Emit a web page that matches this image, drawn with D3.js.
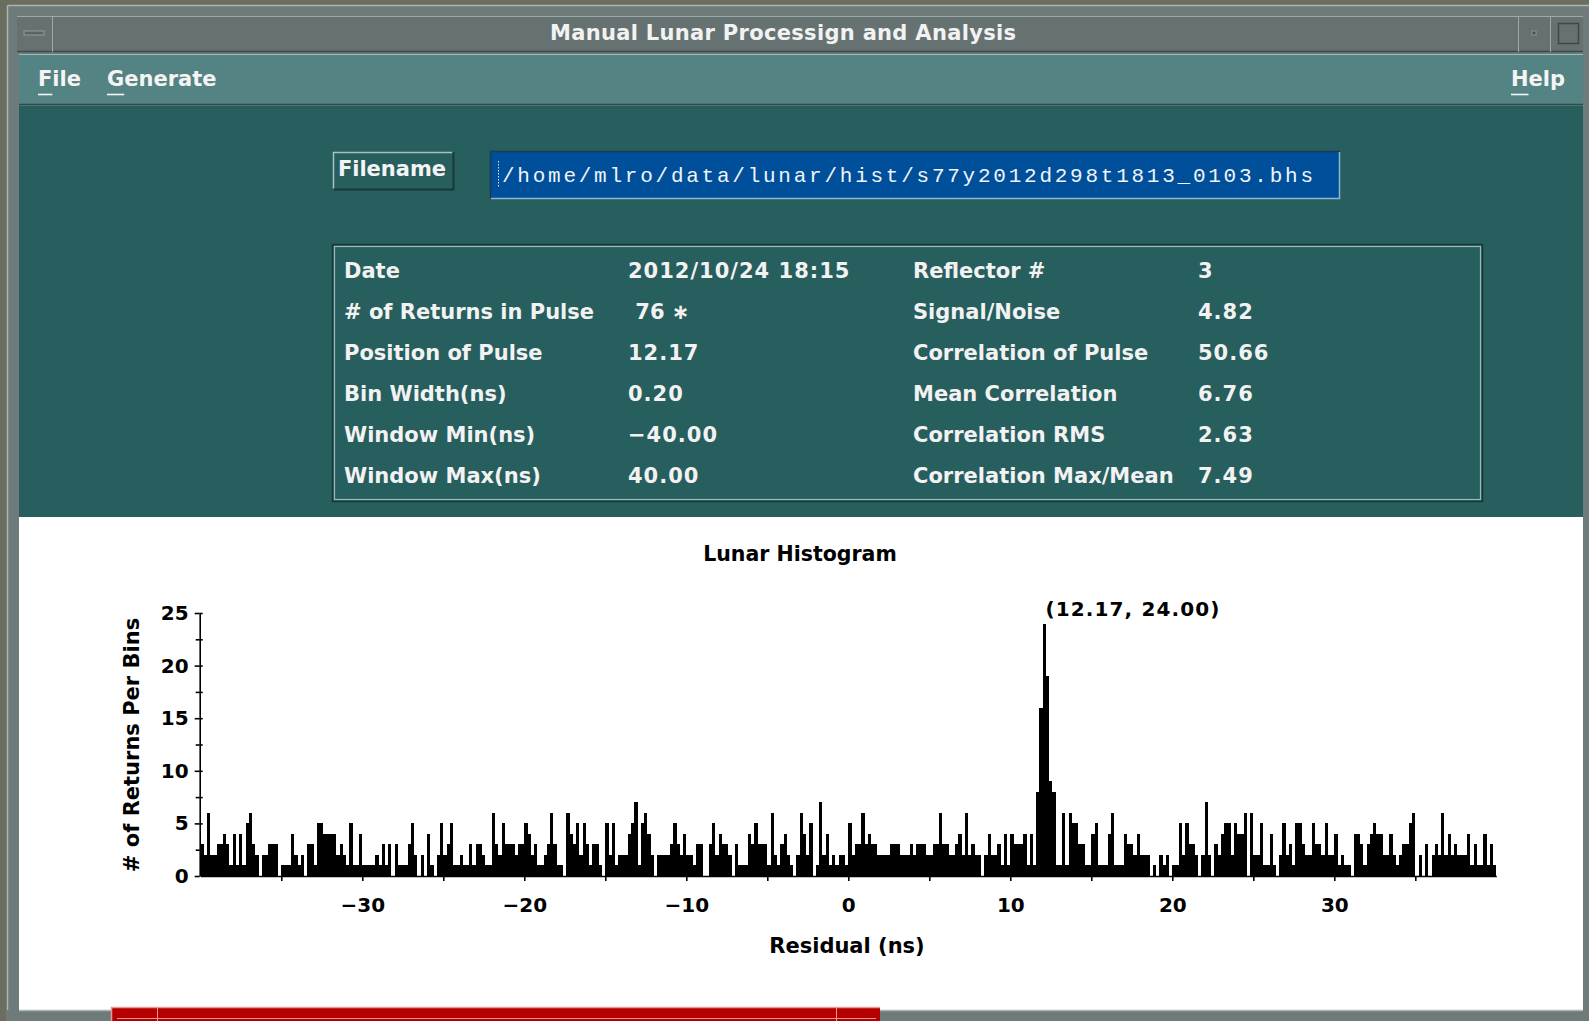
<!DOCTYPE html>
<html>
<head>
<meta charset="utf-8">
<script src="https://cdn.jsdelivr.net/npm/d3@7"></script>
<style>
  html, body { margin: 0; padding: 0; background: #6c6e60; overflow: hidden; }
  svg { display: block; }
</style>
</head>
<body>
<svg id="app" width="1589" height="1021"></svg>
<script>
// ---------------------------------------------------------------
// Run parameters shown in the info panel
// ---------------------------------------------------------------
const windowTitle = "Manual Lunar Processign and Analysis";
const menuLeft = ["File", "Generate"];
const menuRight = ["Help"];
const histFile = "/home/mlro/data/lunar/hist/s77y2012d298t1813_0103.bhs";

const infoLabelsLeft  = ["Date", "# of Returns in Pulse", "Position of Pulse", "Bin Width(ns)", "Window Min(ns)", "Window Max(ns)"];
const infoValuesLeft  = ["2012/10/24 18:15", " 76 \u2217", "12.17", "0.20", "\u221240.00", "40.00"];
const infoLabelsRight = ["Reflector #", "Signal/Noise", "Correlation of Pulse", "Mean Correlation", "Correlation RMS", "Correlation Max/Mean"];
const infoValuesRight = ["3", "4.82", "50.66", "6.76", "2.63", "7.49"];

const pulsePosition = 12.17;   // ns
const binWidth = 0.2;          // ns
const windowMin = -40;         // ns
const windowMax = 40;          // ns

// Histogram counts per 0.2 ns bin, in four 20 ns blocks
const binsA = [ // -40 .. -20 ns
  3,2,6,2,2,3,3,4,3,1, 4,1,4,1,5,6,3,2,0,2, 2,3,3,3,0,1,1,1,4,2, 1,2,0,3,3,1,5,5,4,4,
  4,4,2,3,2,1,5,1,1,4, 1,1,1,1,2,1,3,1,3,0, 3,1,1,1,3,5,2,0,2,0, 4,1,0,2,5,2,3,5,1,1,
  2,1,1,3,1,3,3,2,1,1, 6,3,2,5,3,3,3,2,3,3];
const binsB = [ // -20 .. 0 ns
  5,4,2,3,1,1,2,3,6,3, 1,1,0,6,4,3,5,2,5,3, 1,3,3,1,0,5,2,5,1,2, 2,2,4,5,7,1,5,6,4,2,
  0,2,2,2,2,3,5,3,2,4, 2,2,1,3,3,0,0,3,5,2, 4,3,3,2,0,3,1,1,1,4, 3,5,3,3,3,1,6,2,1,3,
  4,2,1,0,2,6,4,2,5,0, 1,7,2,4,1,2,1,2,2,1];
const binsC = [ // 0 .. 20 ns
  5,2,3,3,6,3,4,3,3,2, 2,2,2,3,3,3,2,2,2,3, 2,3,3,3,2,2,3,3,6,3, 3,2,2,3,4,2,6,2,3,2,
  2,0,2,4,2,2,3,1,4,1, 4,3,3,3,4,1,4,1,8,16, 24,19,9,8,1,1,6,1,6,5, 5,3,3,1,1,4,5,1,1,1,
  4,6,1,1,1,4,3,3,2,4, 2,2,2,0,1,0,2,1,2,0];
const binsD = [ // 20 .. 40 ns
  1,1,5,2,5,3,3,2,0,2, 7,2,0,3,2,4,5,5,2,5, 4,4,6,0,6,2,2,5,1,1, 4,1,0,2,5,2,3,1,5,5,
  3,2,2,5,3,3,2,5,2,2, 4,1,2,1,1,0,4,4,3,1, 3,4,5,4,4,2,2,4,2,1, 2,3,3,5,6,0,2,0,3,0,
  2,3,2,6,2,4,2,3,2,2, 2,4,1,3,1,1,4,1,3,1];

const xTickLabels = [-30, -20, -10, 0, 10, 20, 30];
const yTickLabels = [0, 5, 10, 15, 20, 25];

// ---------------------------------------------------------------
const UI = "'DejaVu Sans', 'Liberation Sans', sans-serif";
const svg = d3.select("#app");
const W = 1589, H = 1021;

// desktop + window frame
svg.append("rect").attr("width", W).attr("height", H).attr("fill", "#6b6d5e");
svg.append("rect").attr("x", 7).attr("y", 5).attr("width", W - 7).attr("height", H - 5)
  .attr("fill", "#6f7a7a");
svg.append("line").attr("x1", 7.5).attr("y1", 5.5).attr("x2", W).attr("y2", 5.5).attr("stroke", "#a9b6b4").attr("stroke-width", 1.5);
svg.append("line").attr("x1", 7.5).attr("y1", 5.5).attr("x2", 7.5).attr("y2", H).attr("stroke", "#a9b6b4").attr("stroke-width", 1.5);

// title bar
svg.append("rect").attr("x", 17).attr("y", 16).attr("width", 1566).attr("height", 35).attr("fill", "#667272");
svg.append("line").attr("x1", 17).attr("y1", 16.5).attr("x2", 1583).attr("y2", 16.5).attr("stroke", "#9eaaaa");
svg.append("line").attr("x1", 17).attr("y1", 51.5).attr("x2", 1583).attr("y2", 51.5).attr("stroke", "#3f4848").attr("stroke-width", 1.5);
[52.5, 1518.5, 1550.5].forEach(x =>
  svg.append("line").attr("x1", x).attr("y1", 16).attr("x2", x).attr("y2", 52).attr("stroke", "#9eaaaa"));
// window menu button glyph
svg.append("rect").attr("x", 24).attr("y", 31).attr("width", 20).attr("height", 4).attr("fill", "#5a6464").attr("stroke", "#9eaaaa").attr("stroke-width", 0.8);
// minimise / maximise glyphs
svg.append("rect").attr("x", 1532).attr("y", 31).attr("width", 4).attr("height", 4).attr("fill", "#4a5454").attr("stroke", "#a8b4b4").attr("stroke-width", 0.6);
svg.append("rect").attr("x", 1558.5).attr("y", 23.5).attr("width", 20).attr("height", 20).attr("fill", "none").attr("stroke", "#3f4848").attr("stroke-width", 1.5);
svg.append("text").attr("x", 783).attr("y", 40).attr("text-anchor", "middle")
  .attr("font-family", UI).attr("font-weight", "bold").attr("font-size", 21)
  .attr("textLength", 466).attr("lengthAdjust", "spacing")
  .attr("fill", "#f2f2f2").text(windowTitle);

// menu bar
svg.append("rect").attr("x", 19).attr("y", 54).attr("width", 1564).attr("height", 51).attr("fill", "#548383");
svg.append("line").attr("x1", 19).attr("y1", 54.5).attr("x2", 1583).attr("y2", 54.5).attr("stroke", "#9cbcbc");
svg.append("line").attr("x1", 19).attr("y1", 104.5).attr("x2", 1583).attr("y2", 104.5).attr("stroke", "#2c4c4c").attr("stroke-width", 1.5);

function menuItem(label, x, anchor) {
  const t = svg.append("text").attr("x", x).attr("y", 86).attr("text-anchor", anchor)
    .attr("font-family", UI).attr("font-weight", "bold").attr("font-size", 21)
    .attr("fill", "#f4f4f4").text(label);
  const bb = t.node().getBBox();
  // mnemonic underline under the first letter
  const first = svg.append("text").attr("font-family", UI).attr("font-weight", "bold")
    .attr("font-size", 21).attr("visibility", "hidden").text(label[0]);
  const w = first.node().getComputedTextLength();
  first.remove();
  svg.append("line").attr("x1", bb.x).attr("x2", bb.x + w).attr("y1", 94.5).attr("y2", 94.5)
    .attr("stroke", "#f4f4f4").attr("stroke-width", 1.6);
}
menuItem(menuLeft[0], 38, "start");
menuItem(menuLeft[1], 107, "start");
menuItem(menuRight[0], 1565, "end");

// main panel
svg.append("rect").attr("x", 19).attr("y", 106).attr("width", 1564).attr("height", 411).attr("fill", "#275e5e");

// Filename button (raised)
svg.append("rect").attr("x", 333).attr("y", 152).attr("width", 120).attr("height", 37).attr("fill", "#275e5e");
svg.append("path").attr("d", "M333.5,188.5 V152.5 H452.5").attr("fill", "none").attr("stroke", "#a7c2c2").attr("stroke-width", 1.5);
svg.append("path").attr("d", "M334,189.5 H453.5 V152").attr("fill", "none").attr("stroke", "#163838").attr("stroke-width", 2);
svg.append("text").attr("x", 392).attr("y", 176).attr("text-anchor", "middle")
  .attr("font-family", UI).attr("font-weight", "bold").attr("font-size", 21)
  .attr("fill", "#f4f4f4").text("Filename");

// filename field (sunken)
svg.append("rect").attr("x", 490).attr("y", 151).attr("width", 850).attr("height", 48).attr("fill", "#004f9b");
svg.append("path").attr("d", "M490.5,199 V151.5 H1340").attr("fill", "none").attr("stroke", "#1a3a5a").attr("stroke-width", 1.5);
svg.append("path").attr("d", "M491,198.5 H1339.5 V152").attr("fill", "none").attr("stroke", "#8fb4d4").attr("stroke-width", 1.5);
// caret
svg.append("line").attr("x1", 498.5).attr("x2", 498.5).attr("y1", 161).attr("y2", 188)
  .attr("stroke", "#d8e4f0").attr("stroke-width", 1).attr("stroke-dasharray", "1.5,1.5");
svg.append("text").attr("x", 502).attr("y", 182)
  .attr("font-family", "'Liberation Mono', 'DejaVu Sans Mono', monospace").attr("font-size", 21)
  .attr("textLength", 811).attr("lengthAdjust", "spacing")
  .attr("fill", "#f0f4f8").text(histFile);

// info box
svg.append("rect").attr("x", 332.5).attr("y", 244.5).attr("width", 1150).attr("height", 257)
  .attr("fill", "none").attr("stroke", "#163838").attr("stroke-width", 1.5);
svg.append("rect").attr("x", 334.5).attr("y", 246.5).attr("width", 1146).attr("height", 253)
  .attr("fill", "none").attr("stroke", "#9cbaba").attr("stroke-width", 1.2);

const rowY = d3.scalePoint().domain(d3.range(infoLabelsLeft.length)).range([278, 483]);
const infoCols = [
  { x: 344, texts: infoLabelsLeft },
  { x: 628, texts: infoValuesLeft },
  { x: 913, texts: infoLabelsRight },
  { x: 1198, texts: infoValuesRight }
];
infoCols.forEach(col => {
  svg.append("g").selectAll("text").data(col.texts).join("text")
    .attr("x", col.x).attr("y", (d, i) => rowY(i))
    .attr("font-family", UI).attr("font-weight", "bold").attr("font-size", 21)
    .attr("fill", "#f2f2f2").attr("xml:space", "preserve")
    .style("white-space", "pre")
    .style("letter-spacing", d => /^[\d\s/:.\u2212]+$/.test(d) ? "1px" : null)
    .text(d => d);
});

// chart area
svg.append("rect").attr("x", 19).attr("y", 517).attr("width", 1564).attr("height", 493).attr("fill", "#ffffff");

// bottom frame and task bar strip
svg.append("rect").attr("x", 7).attr("y", 1010).attr("width", W - 7).attr("height", 11).attr("fill", "#6f7a7a");
svg.append("line").attr("x1", 19).attr("y1", 1010.5).attr("x2", 1583).attr("y2", 1010.5).attr("stroke", "#a9b6b4").attr("stroke-width", 1.5);
svg.append("rect").attr("x", 111).attr("y", 1007).attr("width", 769).attr("height", 14).attr("fill", "#b60000");
svg.append("line").attr("x1", 111).attr("y1", 1007.5).attr("x2", 880).attr("y2", 1007.5).attr("stroke", "#e59a9a").attr("stroke-width", 1.5);
svg.append("line").attr("x1", 111.5).attr("y1", 1007).attr("x2", 111.5).attr("y2", 1021).attr("stroke", "#e59a9a").attr("stroke-width", 1.5);
svg.append("line").attr("x1", 117).attr("y1", 1018.5).attr("x2", 876).attr("y2", 1018.5).attr("stroke", "#e59a9a");
[157.5, 836.5].forEach(x =>
  svg.append("line").attr("x1", x).attr("y1", 1007).attr("x2", x).attr("y2", 1021).attr("stroke", "#e59a9a"));

// ---------------------------------------------------------------
// Lunar histogram
// ---------------------------------------------------------------
const counts = [...binsA, ...binsB, ...binsC, ...binsD];
const x = d3.scaleLinear().domain([windowMin, windowMax]).range([200.3, 1496.3]);
const y = d3.scaleLinear().domain([0, 25]).range([876, 613]);

const pts = counts.map((c, i) => ({ t: windowMin + i * binWidth, c }));
pts.push({ t: windowMax, c: counts[counts.length - 1] });

const area = d3.area().curve(d3.curveStepAfter)
  .x(d => x(d.t)).y0(y(0)).y1(d => y(d.c));

const chart = svg.append("g");
chart.append("path").datum(pts).attr("d", area).attr("fill", "#000000")
  .attr("shape-rendering", "crispEdges");

// x axis
const xAxis = d3.axisBottom(x).tickValues(xTickLabels)
  .tickFormat(d => d < 0 ? "\u2212" + Math.abs(d) : String(d))
  .tickSize(5).tickSizeOuter(0).tickPadding(17);
const gx = chart.append("g").attr("transform", `translate(0,${y(0)})`).call(xAxis);
const xMinor = d3.range(windowMin + 5, windowMax + 1, 10);
chart.append("g").attr("transform", `translate(0,${y(0)})`)
  .call(d3.axisBottom(x).tickValues(xMinor).tickFormat("").tickSize(5).tickSizeOuter(0))
  .select(".domain").remove();

// y axis
const yAxis = d3.axisLeft(y).tickValues(yTickLabels).tickSize(5).tickSizeOuter(0).tickPadding(6);
const gy = chart.append("g").attr("transform", `translate(${x(windowMin) - 0.6},0)`).call(yAxis);
const yMinor = d3.range(2.5, 25, 5);
chart.append("g").attr("transform", `translate(${x(windowMin) - 0.6},0)`)
  .call(d3.axisLeft(y).tickValues(yMinor).tickFormat("").tickSize(4).tickSizeOuter(0))
  .select(".domain").remove();
chart.append("g").attr("transform", `translate(${x(windowMin) - 0.6},0)`)
  .call(d3.axisRight(y).tickValues([...yMinor, ...yTickLabels.slice(1)]).tickFormat("").tickSize(3).tickSizeOuter(0))
  .select(".domain").remove();

chart.selectAll(".domain, .tick line").attr("stroke", "#000").attr("stroke-width", 1.6);
[gx, gy].forEach(g => g.selectAll("text")
  .attr("font-family", UI).attr("font-weight", "bold").attr("font-size", 20).attr("fill", "#000"));

// titles
chart.append("text").attr("x", 800).attr("y", 561).attr("text-anchor", "middle")
  .attr("font-family", UI).attr("font-weight", "bold").attr("font-size", 20.5)
  .attr("fill", "#000").text("Lunar Histogram");
chart.append("text").attr("x", 847).attr("y", 953).attr("text-anchor", "middle")
  .attr("font-family", UI).attr("font-weight", "bold").attr("font-size", 21)
  .attr("fill", "#000").text("Residual (ns)");
chart.append("text").attr("transform", "translate(139,745) rotate(-90)").attr("text-anchor", "middle")
  .attr("font-family", UI).attr("font-weight", "bold").attr("font-size", 21)
  .attr("fill", "#000").text("# of Returns Per Bins");

// peak annotation, taken from the histogram itself
const peakCount = d3.max(counts);
chart.append("text").attr("x", x(pulsePosition)).attr("y", y(peakCount) - 8)
  .attr("font-family", UI).attr("font-weight", "bold").attr("font-size", 20)
  .attr("textLength", 174).attr("lengthAdjust", "spacing")
  .attr("fill", "#000").text(`(${pulsePosition.toFixed(2)}, ${peakCount.toFixed(2)})`);
</script>
</body>
</html>
